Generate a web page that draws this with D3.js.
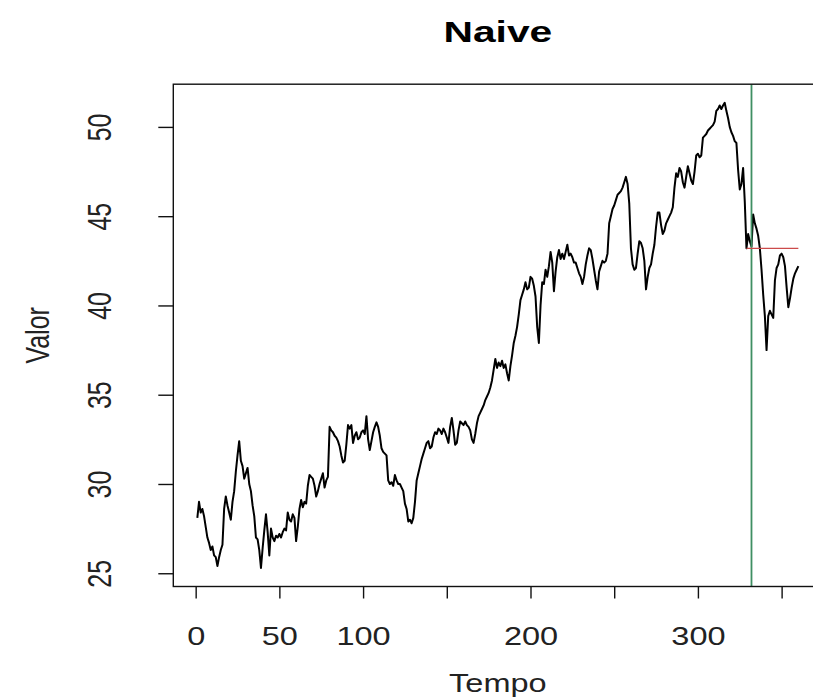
<!DOCTYPE html>
<html>
<head>
<meta charset="utf-8">
<script src="https://cdn.jsdelivr.net/npm/d3@7"></script>
<style>
  html, body { margin: 0; padding: 0; background: #fff; }
  svg { display: block; font-family: "Liberation Sans", Arial, sans-serif; }
</style>
</head>
<body>
<svg id="chart" width="813" height="700"></svg>
<script>
// Observed series, t = 1..360
const valores = [
  28.1, 29.0, 28.4, 28.6, 28.2, 27.6, 27.0, 26.7, 26.3, 26.5,
  26.0, 25.9, 25.4, 25.9, 26.3, 26.6, 28.6, 29.3, 28.8, 28.4,
  28.0, 29.0, 29.6, 30.7, 31.6, 32.4, 31.3, 31.0, 30.3, 30.6,
  30.9, 30.0, 29.6, 28.8, 28.2, 27.0, 26.9, 26.3, 25.3, 26.4,
  27.4, 28.3, 27.3, 26.0, 27.5, 27.0, 26.8, 27.1, 27.0, 27.2,
  27.0, 27.3, 27.5, 27.4, 28.4, 28.0, 27.9, 28.3, 28.1, 26.8,
  27.6, 28.6, 29.1, 28.7, 29.0, 28.9, 29.9, 30.5, 30.4, 30.3,
  29.9, 29.3, 29.6, 30.0, 30.3, 30.6, 29.8, 30.2, 30.4, 33.2,
  33.0, 32.9, 32.7, 32.6, 32.4, 32.1, 31.6, 31.2, 31.3, 32.2,
  33.3, 33.1, 33.3, 32.3, 32.7, 32.9, 32.5, 32.6, 32.9, 33.0,
  32.8, 33.8, 32.5, 31.9, 32.4, 32.9, 33.2, 33.45, 33.2, 32.7,
  32.0, 31.8, 31.7, 31.6, 30.2, 30.0, 30.1, 29.9, 30.5, 30.2,
  30.0, 30.0, 29.8, 29.6, 28.9, 28.6, 27.9, 28.0, 27.8, 28.1,
  29.0, 30.2, 30.6, 31.0, 31.4, 31.7, 32.0, 32.3, 32.4, 32.0,
  32.1, 32.6, 32.9, 32.8, 33.1, 33.0, 32.8, 33.1, 32.9, 32.6,
  32.3, 33.2, 33.7, 33.0, 32.2, 32.3, 33.0, 33.5, 33.4, 33.3,
  33.5, 33.3, 33.2, 33.0, 32.5, 32.3, 32.8, 33.4, 33.8, 34.0,
  34.2, 34.4, 34.7, 34.9, 35.1, 35.4, 35.8, 36.4, 37.0, 36.5,
  36.8, 36.6, 36.9, 36.5, 36.7, 36.2, 35.8, 36.6, 37.2, 37.9,
  38.3, 38.8, 39.5, 40.3, 40.6, 40.9, 41.3, 40.9, 41.0, 41.6,
  41.5, 41.1, 40.5, 38.8, 37.9, 40.0, 41.3, 41.2, 42.0, 41.6,
  42.2, 43.0, 42.4, 40.8, 41.9, 42.7, 43.1, 42.6, 42.9, 42.6,
  43.0, 43.4, 42.8, 42.9, 42.7, 42.4, 42.4, 42.1, 41.8, 41.6,
  41.2, 41.6, 42.3, 42.8, 43.2, 43.1, 42.6, 42.0, 41.4, 40.9,
  41.9, 42.2, 42.5, 42.4, 42.5, 42.9, 44.6, 45.0, 45.4, 45.6,
  45.9, 46.2, 46.3, 46.4, 46.6, 46.9, 47.2, 46.8, 45.7, 43.2,
  42.3, 42.0, 42.1, 42.9, 43.6, 43.5, 43.2, 42.5, 40.9, 41.6,
  42.1, 42.3, 42.9, 43.4, 44.4, 45.2, 45.2, 44.5, 44.0, 44.2,
  44.6, 44.8, 45.0, 45.2, 45.5, 46.6, 47.4, 47.2, 47.7, 47.5,
  46.9, 46.6, 47.2, 47.8, 47.4, 47.0, 46.8, 47.5, 48.4, 48.5,
  48.3, 48.4, 49.4, 49.5, 49.6, 49.8, 49.9, 50.0, 50.1, 50.3,
  50.9, 51.0, 51.2, 51.0, 51.2, 51.35, 50.9, 50.5, 50.0, 49.7,
  49.5, 49.2, 49.1, 47.6, 46.5, 46.8, 47.7, 45.8, 43.2, 44.0,
  43.6, 43.3, 45.1, 44.6, 44.3, 43.9, 43.2, 42.0, 40.6, 39.4,
  37.5, 39.4, 39.7, 39.5, 39.3, 41.4, 42.1, 42.3, 42.8, 42.9,
  42.7, 42.2, 41.0, 39.9, 40.4, 41.0, 41.5, 41.8, 42.0, 42.2
];
const tempos = valores.map((_, i) => i + 1);

// Train/test split and naive forecast
const corte = 332;          // vertical marker
const inicioPrevisao = 329; // forecast starts from this observation
const fimPrevisao = 360;
const previsaoNaive = valores[inicioPrevisao - 1];

const xTicks = [0, 50, 100, 150, 200, 250, 300, 350];
const xTickLabels = ["0", "50", "100", "", "200", "", "300", ""];
const yTicks = [25, 30, 35, 40, 45, 50];

const titulo = "Naive";
const xTitulo = "Tempo";
const yTitulo = "Valor";

// Plot region
const box = { left: 173.3, right: 822.4, top: 84.2, bottom: 586.5 };
const stretch = 1.3;   // horizontal text stretch
const ink = "#222";

const svg = d3.select("#chart");
svg.append("rect").attr("width", 813).attr("height", 700).attr("fill", "#fff");

// R-style 4% padding on both axes
const pad = (lo, hi) => { const r = hi - lo; return [lo - 0.04 * r, hi + 0.04 * r]; };
const [yMin, yMax] = d3.extent(valores);
const x = d3.scaleLinear().domain(pad(1, tempos.length)).range([box.left, box.right]);
const y = d3.scaleLinear().domain(pad(yMin, yMax)).range([box.bottom, box.top]);

svg.append("clipPath").attr("id", "plotclip")
  .append("rect")
  .attr("x", box.left).attr("y", box.top)
  .attr("width", box.right - box.left).attr("height", box.bottom - box.top);

const plot = svg.append("g").attr("clip-path", "url(#plotclip)");

// Series
const line = d3.line().x((d, i) => x(tempos[i])).y(d => y(d));
plot.append("path")
  .datum(valores)
  .attr("fill", "none")
  .attr("stroke", "#000")
  .attr("stroke-width", 2)
  .attr("stroke-linejoin", "round")
  .attr("d", line);

// Split marker
plot.append("line")
  .attr("x1", x(corte)).attr("x2", x(corte))
  .attr("y1", box.top).attr("y2", box.bottom)
  .attr("stroke", "#3f8f63").attr("stroke-width", 1.8);

// Naive forecast
plot.append("line")
  .attr("x1", x(inicioPrevisao)).attr("x2", x(fimPrevisao))
  .attr("y1", y(previsaoNaive)).attr("y2", y(previsaoNaive))
  .attr("stroke", "#cc4b4b").attr("stroke-width", 1.3);

// Box
svg.append("rect")
  .attr("x", box.left).attr("y", box.top)
  .attr("width", box.right - box.left).attr("height", box.bottom - box.top)
  .attr("fill", "none").attr("stroke", "#111").attr("stroke-width", 1.4);

// X axis
const xAxis = svg.append("g")
  .attr("transform", `translate(0,${box.bottom})`)
  .call(d3.axisBottom(x).tickValues(xTicks).tickSize(12).tickPadding(0)
    .tickFormat((d, i) => xTickLabels[i]));
xAxis.select(".domain").remove();
xAxis.selectAll(".tick line").attr("stroke", "#111").attr("stroke-width", 1.4);
xAxis.selectAll(".tick text")
  .attr("y", 0).attr("dy", null)
  .attr("transform", `translate(0,${645 - box.bottom}) scale(${stretch},1)`)
  .attr("font-size", 25).attr("fill", ink)
  .attr("font-family", "Liberation Sans, Arial, sans-serif");

// Y axis
const yAxis = svg.append("g")
  .attr("transform", `translate(${box.left},0)`)
  .call(d3.axisLeft(y).tickValues(yTicks).tickSize(15).tickFormat(d3.format("d")));
yAxis.select(".domain").remove();
yAxis.selectAll(".tick line").attr("stroke", "#111").attr("stroke-width", 1.4);
yAxis.selectAll(".tick text")
  .attr("x", 0).attr("dy", "0.35em")
  .attr("text-anchor", "middle")
  .attr("transform", `translate(${100 - box.left},0) scale(${stretch},1) rotate(-90)`)
  .attr("font-size", 25).attr("fill", ink)
  .attr("font-family", "Liberation Sans, Arial, sans-serif");

// Titles
const cx = (box.left + box.right) / 2;
svg.append("text")
  .attr("transform", `translate(${cx},42) scale(1.36,1)`)
  .attr("text-anchor", "middle")
  .attr("font-size", 30).attr("font-weight", "bold").attr("fill", "#000")
  .text(titulo);

svg.append("text")
  .attr("transform", `translate(${cx},692) scale(${stretch},1)`)
  .attr("text-anchor", "middle")
  .attr("font-size", 25).attr("fill", ink)
  .text(xTitulo);

svg.append("text")
  .attr("transform", `translate(38,${(box.top + box.bottom) / 2}) scale(${stretch},1) rotate(-90)`)
  .attr("text-anchor", "middle").attr("dy", "0.35em")
  .attr("font-size", 25).attr("fill", ink)
  .text(yTitulo);
</script>
</body>
</html>
